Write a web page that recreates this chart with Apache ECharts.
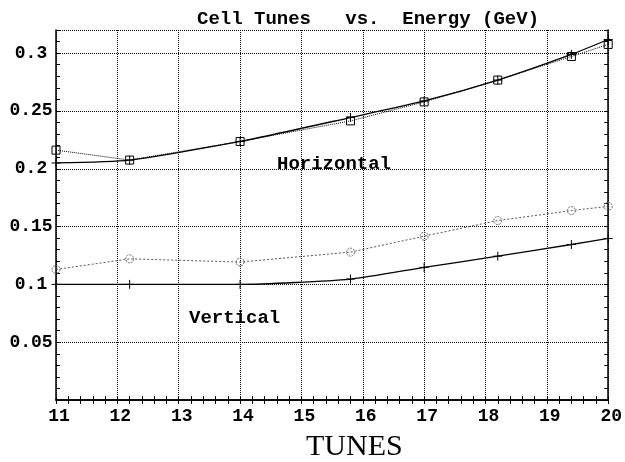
<!DOCTYPE html>
<html>
<head>
<meta charset="utf-8">
<script src="https://cdn.jsdelivr.net/npm/echarts@6/dist/echarts.min.js"></script>
<style>
html,body{margin:0;padding:0;background:#fff;}
#chart{width:625px;height:462px;}
</style>
</head>
<body>
<div id="chart"></div>
<script>
// ---- data ----
var energy      = [11, 12.2, 14, 15.8, 17, 18.2, 19.4, 20];
var horizSolid  = [0.2050, 0.2075, 0.2236, 0.2443, 0.2586, 0.2767, 0.2989, 0.3118];
var horizDotted = [0.2161, 0.2075, 0.2236, 0.2414, 0.2578, 0.2767, 0.2971, 0.3075];
var vertSolid   = [0.1000, 0.1000, 0.1000, 0.1046, 0.1147, 0.1244, 0.1345, 0.1397];
var vertDotted  = [0.1129, 0.1221, 0.1193, 0.1279, 0.1417, 0.1552, 0.1638, 0.1675];
var xTicks = [11, 12, 13, 14, 15, 16, 17, 18, 19, 20];
var yTicks = [0.05, 0.1, 0.15, 0.2, 0.25, 0.3];
var titleText = 'Cell Tunes   vs.  Energy (GeV)';
var xName = 'TUNES';
var labelH = 'Horizontal';
var labelV = 'Vertical';

function pairs(xs, ys){ return xs.map(function(x,i){ return [x, ys[i]]; }); }

var MONO = 'Liberation Mono';
var chart = echarts.init(document.getElementById('chart'), null, {renderer:'canvas'});

var plusPath = 'path://M5,0L5,10M0,5L10,5';

var option = {
  animation: false,
  backgroundColor: '#fff',
  grid: { left: 56, right: 15, top: 30, bottom: 62, containLabel: false },
  xAxis: [
    { type:'value', position:'bottom', min:11, max:20, interval:1,
      axisLine:{show:true, lineStyle:{color:'#000', width:1.5}},
      axisTick:{show:false},
      splitLine:{show:true, lineStyle:{color:'#000', type:'dotted', width:1}},
      axisLabel:{show:true, margin:7, color:'#000', fontFamily:MONO, fontWeight:'bold', fontSize:18,
        padding:[0,0,0,6],
        formatter:function(v){ return xTicks.indexOf(Math.round(v))>=0 && Math.abs(v-Math.round(v))<1e-6 ? String(Math.round(v)) : ''; } }
    },
    { type:'value', position:'bottom', min:11, max:20, interval:0.2,
      axisLine:{show:false}, axisLabel:{show:false}, splitLine:{show:false},
      axisTick:{show:true, inside:true, length:4, lineStyle:{color:'#000', width:1}} },
    { type:'value', position:'top', min:11, max:20, interval:0.2,
      axisLine:{show:true, lineStyle:{color:'#000', width:1.5}}, axisLabel:{show:false}, splitLine:{show:false},
      axisTick:{show:true, inside:true, length:4, lineStyle:{color:'#000', width:1}} }
  ],
  yAxis: [
    { type:'value', position:'left', min:0, max:0.32, interval:0.05,
      axisLine:{show:true, lineStyle:{color:'#000', width:1.5}},
      axisTick:{show:false},
      splitLine:{show:true, lineStyle:{color:'#000', type:'dotted', width:1}},
      axisLabel:{show:true, align:'center', margin:25, color:'#000', fontFamily:MONO, fontWeight:'bold', fontSize:18,
        showMaxLabel:false,
        formatter:function(v){
          for (var i=0;i<yTicks.length;i++){ if (Math.abs(v-yTicks[i])<1e-9) return String(yTicks[i]); }
          return '';
        } }
    },
    { type:'value', position:'left', min:0, max:0.32, interval:0.01,
      axisLine:{show:false}, axisLabel:{show:false}, splitLine:{show:false},
      axisTick:{show:true, inside:true, length:4, lineStyle:{color:'#000', width:1}} },
    { type:'value', position:'right', min:0, max:0.32, interval:0.01,
      axisLine:{show:true, lineStyle:{color:'#000', width:1.5}}, axisLabel:{show:false}, splitLine:{show:false},
      axisTick:{show:true, inside:true, length:4, lineStyle:{color:'#000', width:1}} }
  ],
  series: [
    { name:'H dotted', type:'line', xAxisIndex:0, yAxisIndex:0, data: pairs(energy, horizDotted),
      symbol:'rect', symbolSize:8, showSymbol:true,
      lineStyle:{color:'#000', width:1, type:'dotted'},
      itemStyle:{color:'rgba(0,0,0,0)', borderColor:'#000', borderWidth:1}, z:3 },
    { name:'V dotted', type:'line', xAxisIndex:0, yAxisIndex:0, data: pairs(energy, vertDotted),
      symbol:'circle', symbolSize:8, showSymbol:true,
      lineStyle:{color:'#555', width:1, type:[2,2]},
      itemStyle:{color:'rgba(0,0,0,0)', borderColor:'#666', borderWidth:1, borderType:[2,1]}, z:3 },
    { name:'H solid', type:'line', xAxisIndex:0, yAxisIndex:0, data: pairs(energy, horizSolid),
      smooth:0.2, symbol:plusPath, symbolSize:9, showSymbol:true,
      lineStyle:{color:'#000', width:1.3},
      itemStyle:{color:'rgba(0,0,0,0)', borderColor:'#000', borderWidth:1}, z:4 },
    { name:'V solid', type:'line', xAxisIndex:0, yAxisIndex:0, data: pairs(energy, vertSolid),
      smooth:0.2, symbol:plusPath, symbolSize:9, showSymbol:true,
      lineStyle:{color:'#000', width:1.3},
      itemStyle:{color:'rgba(0,0,0,0)', borderColor:'#000', borderWidth:1}, z:4 }
  ],
  graphic: [
    { type:'text', left:197, top:10, z:10,
      style:{ text:titleText, fill:'#000', font:'bold 19px "Liberation Mono"' } },
    { type:'text', left:277, top:155, z:10,
      style:{ text:labelH, fill:'#000', font:'bold 19px "Liberation Mono"' } },
    { type:'text', left:189, top:309, z:10,
      style:{ text:labelV, fill:'#000', font:'bold 19px "Liberation Mono"' } },
    { type:'text', left:306, top:432, z:10,
      style:{ text:xName, fill:'#000', font:'30px "Liberation Serif"' } }
  ]
};
chart.setOption(option);
</script>
</body>
</html>
